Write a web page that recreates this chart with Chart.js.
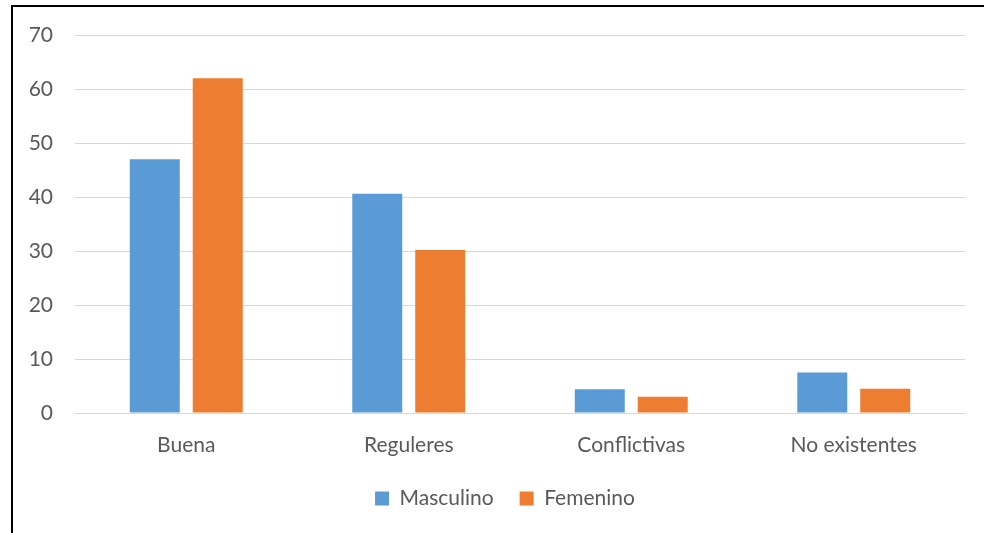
<!DOCTYPE html>
<html>
<head>
<meta charset="utf-8">
<script src="https://cdn.jsdelivr.net/npm/chart.js@4/dist/chart.umd.min.js"></script>
<style>
  html, body { margin: 0; padding: 0; background: #fff; }
  #wrap { position: relative; width: 984px; height: 533px; overflow: hidden; }
  #frame { position: absolute; left: 11px; top: 5px; width: 1000px; height: 600px;
           border-top: 2px solid #000; border-left: 2px solid #000; pointer-events: none; }
  canvas { position: absolute; left: 0; top: 0; }
</style>
</head>
<body>
<div id="wrap">
  <canvas id="c" width="984" height="533"></canvas>
  <div id="frame"></div>
</div>
<script>
const categories = ["Buena", "Reguleres", "Conflictivas", "No existentes"];
const seriesNames = ["Masculino", "Femenino"];
const masculino = [47, 40.6, 4.4, 7.5];
const femenino = [62, 30.2, 3.0, 4.5];
const yTicks = [0, 10, 20, 30, 40, 50, 60, 70];

const FONT = "Lato";
const TEXT = "#595959";

const legendShift = {
  id: "legendShift",
  afterLayout(chart) {
    const lg = chart.legend;
    if (!lg) return;
    const delta = 505 - (lg.left + lg.right) / 2;
    lg.left += delta;
    lg.right += delta;
  }
};

new Chart(document.getElementById("c"), {
  type: "bar",
  data: {
    labels: categories,
    datasets: [
      { label: seriesNames[0], data: masculino, backgroundColor: "#5B9BD5", borderWidth: 0,
        categoryPercentage: 0.566, barPercentage: 0.794 },
      { label: seriesNames[1], data: femenino, backgroundColor: "#ED7D31", borderWidth: 0,
        categoryPercentage: 0.566, barPercentage: 0.794 }
    ]
  },
  plugins: [legendShift],
  options: {
    responsive: false,
    animation: false,
    layout: { padding: { left: 0, right: 19, top: 35, bottom: 14 } },
    plugins: {
      tooltip: { enabled: false },
      legend: {
        position: "bottom",
        labels: {
          boxWidth: 14, boxHeight: 14, padding: 26,
          color: TEXT, font: { family: FONT, size: 21 }
        }
      }
    },
    scales: {
      x: {
        grid: { display: false, drawTicks: false },
        border: { display: false },
        ticks: { color: TEXT, font: { family: FONT, size: 21 }, padding: 20, maxRotation: 0 },
        afterFit: (s) => { s.height = 49; }
      },
      y: {
        min: 0, max: 70,
        afterBuildTicks: (s) => { s.ticks = yTicks.map(v => ({ value: v })); },
        grid: { color: "#D9D9D9", lineWidth: 1, drawTicks: false },
        border: { display: false },
        ticks: { color: TEXT, font: { family: FONT, size: 21 }, padding: 22 },
        afterFit: (s) => { s.width = 75; }
      }
    }
  }
});
</script>
</body>
</html>
